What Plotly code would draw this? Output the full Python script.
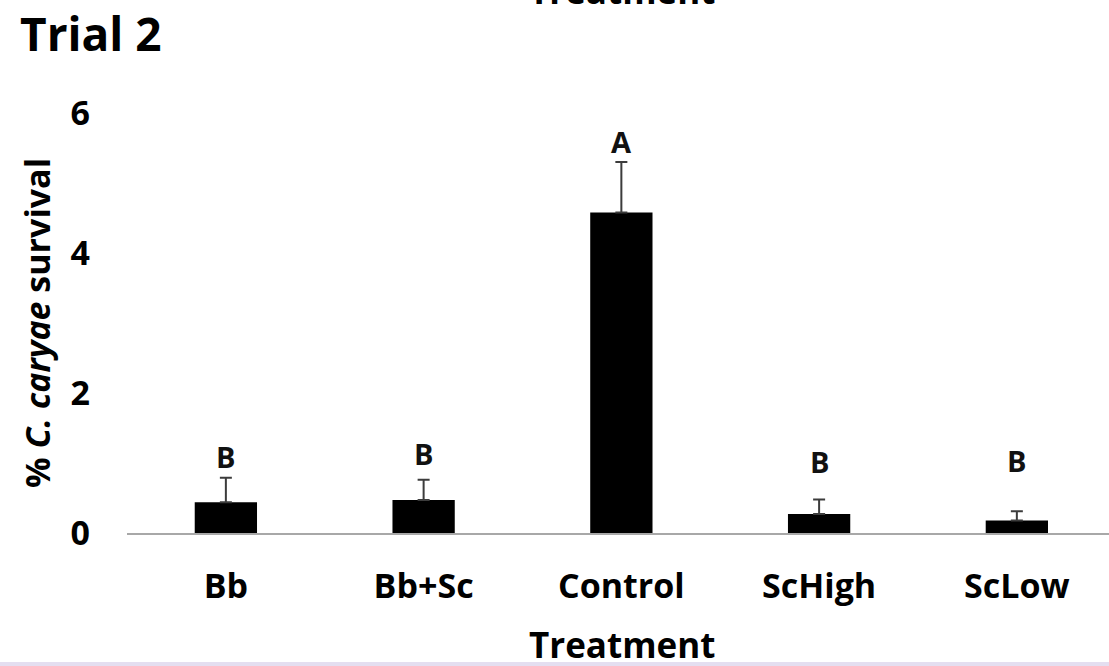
import plotly.graph_objects as go

treatments = ["Bb", "Bb+Sc", "Control", "ScHigh", "ScLow"]
survival_mean = [0.44, 0.47, 4.58, 0.27, 0.18]
survival_err = [0.35, 0.29, 0.72, 0.21, 0.13]
group_letters = ["B", "B", "A", "B", "B"]
letter_y = [1.09, 1.14, 5.59, 1.02, 1.03]
y_ticks = [0, 2, 4, 6]

FONT = "Open Sans"
W, H = 1109, 666
ML, MR, MT, MB = 127, 0, 113, 133
PW, PH = W - ML - MR, H - MT - MB

fig = go.Figure()
fig.add_trace(go.Bar(
    x=treatments, y=survival_mean, width=0.315,
    marker=dict(color="#000000", line=dict(width=0)),
    error_y=dict(type="data", symmetric=False, array=survival_err,
                 arrayminus=[0] * len(survival_err),
                 color="#3c3c3c", thickness=2, width=6),
    showlegend=False, hoverinfo="skip",
))

annotations = []
for t, ly, lt in zip(treatments, letter_y, group_letters):
    annotations.append(dict(x=t, y=ly, xref="x", yref="y", text=lt,
                            showarrow=False, font=dict(family=FONT, size=29, color="#111111", weight="bold"),
                            xanchor="center", yanchor="middle"))

# x-axis title
annotations.append(dict(x=(622 - ML) / PW, y=(MT + PH - 644) / PH, xref="paper", yref="paper",
                        text="Treatment", showarrow=False,
                        font=dict(family=FONT, size=35, color="#000000", weight="bold"),
                        xanchor="center", yanchor="middle"))
# cut-off title at top (bottom of the title from the panel above)
annotations.append(dict(x=(622 - ML) / PW, y=(MT + PH - 16) / PH, xref="paper", yref="paper",
                        text="Treatment", showarrow=False,
                        font=dict(family=FONT, size=35, color="#000000", weight="bold"),
                        xanchor="center", yanchor="bottom"))
# panel title
annotations.append(dict(x=(18 - ML) / PW, y=(MT + PH - 33) / PH, xref="paper", yref="paper",
                        text="Trial 2", showarrow=False,
                        font=dict(family=FONT, size=46, color="#000000", weight="bold"),
                        xanchor="left", yanchor="middle"))
# y-axis title
annotations.append(dict(x=(37 - ML) / PW, y=(MT + PH - 323) / PH, xref="paper", yref="paper",
                        text="% <i>C. caryae</i> survival", showarrow=False, textangle=-90,
                        font=dict(family=FONT, size=34, color="#000000", weight="bold"),
                        xanchor="center", yanchor="middle"))

fig.update_layout(
    width=W, height=H,
    margin=dict(l=ML, r=MR, t=MT, b=MB, pad=0),
    paper_bgcolor="#ffffff", plot_bgcolor="#ffffff",
    bargap=0.685,
    annotations=annotations,
    shapes=[dict(type="rect", xref="paper", yref="paper",
                 x0=-ML / PW, x1=1.0, y0=(MT + PH - 662) / PH, y1=(MT + PH - 667) / PH,
                 fillcolor="#e4def0", line=dict(width=0), layer="above")],
    xaxis=dict(range=[-0.5, 4.466], showline=True, linecolor="#a8a8a8", linewidth=2,
               showgrid=False, zeroline=False, ticks="", ticklabelstandoff=22,
               tickfont=dict(family=FONT, size=34, color="#000000", weight="bold")),
    yaxis=dict(range=[0, 6], tickvals=y_ticks, showline=False, showgrid=False, zeroline=False,
               ticks="", ticklabelstandoff=36,
               tickfont=dict(family=FONT, size=34, color="#000000", weight="bold")),
)

fig.write_html("out.html")
